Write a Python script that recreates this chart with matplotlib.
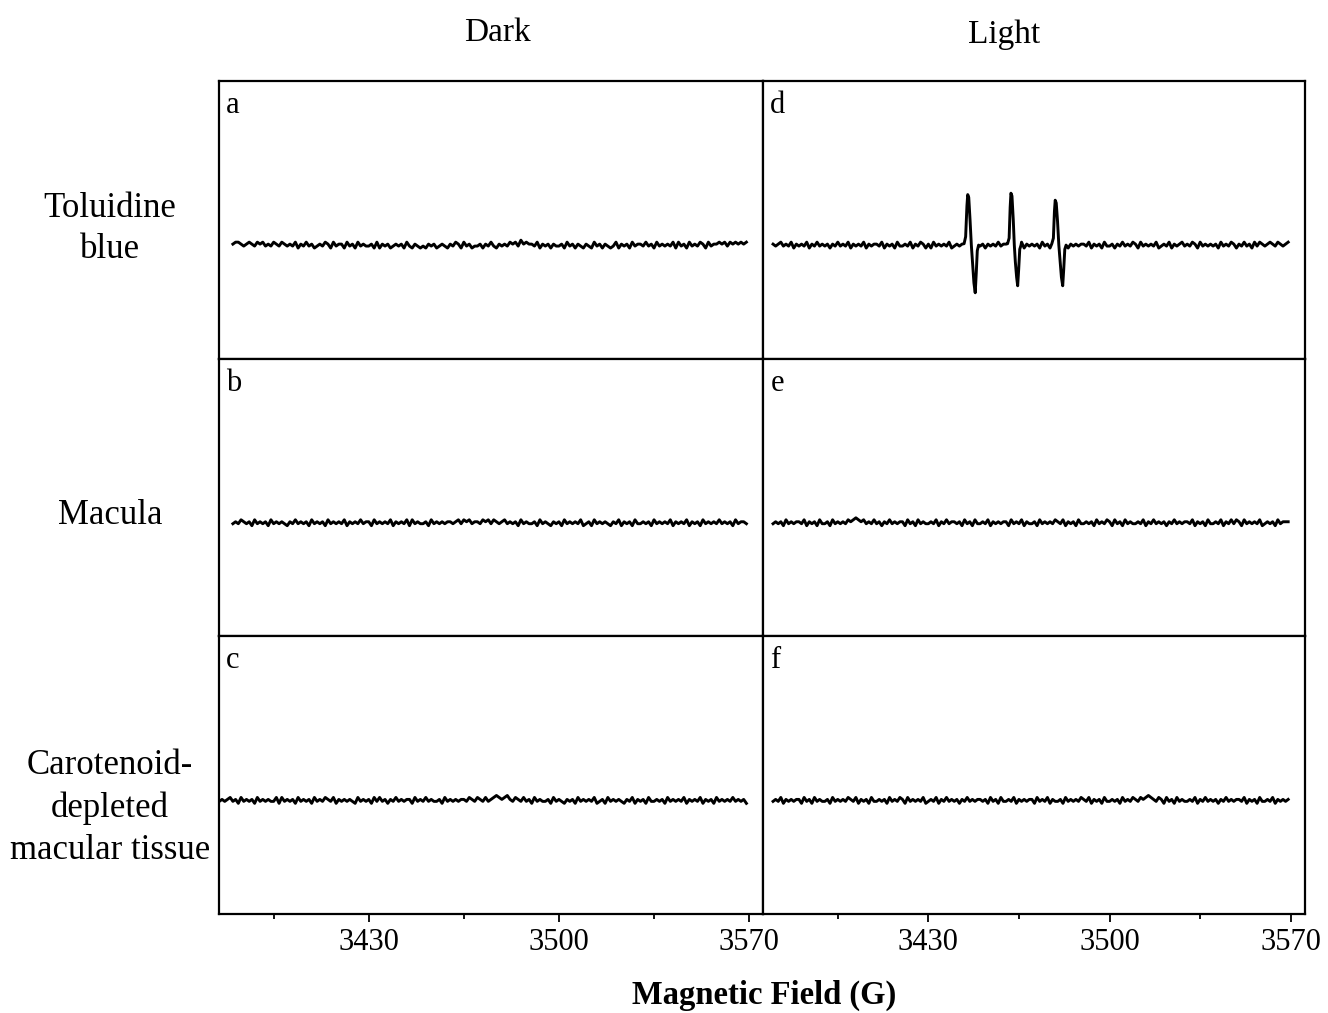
"""EPR spectra: toluidine blue / macula / carotenoid-depleted tissue, dark vs light."""

import numpy as np
import matplotlib.pyplot as plt
from matplotlib.ticker import FixedLocator

plt.rcParams["font.family"] = ["Liberation Serif", "DejaVu Serif"]

COLUMN_TITLES = ["Dark", "Light"]
ROW_LABELS = ["Toluidine\nblue", "Macula", "Carotenoid-\ndepleted\nmacular tissue"]
PANEL_LETTERS = [["a", "d"], ["b", "e"], ["c", "f"]]
MAJOR_TICKS = [3430, 3500, 3570]
MINOR_TICKS = [3395, 3465, 3535]
XLIMS = [(3375, 3575), (3366, 3575.5)]
XLABEL = "Magnetic Field (G)"

# baseline noise, one digit per gauss (signal = (digit - 4.5) * NOISE_UNIT, a.u.)
NOISE_UNIT = 1.4
NOISE = {
    "a": """5665456546 5645465465 4546354645 3454653645 5364536454 4536354534
            5453643543 4354534543 5465364534 4535464354 5465647565 5463545354
            4536453543 5436453543 4635453645 5464536454 5463645364 5465364556
            5646565656""",
    "b": """4546545364 5453645454 3546454536 4545364545 4635454645 5364545463
            5454636454 4536454545 5456465645 5465646545 6454536454 4536454354
            5364545463 4536454543 5463545364 4545364545 4635454635 4536454546
            4545364554""",
    "c": """4545645364 5453645454 4636454536 4545364546 5463545454 3645453646
            4535464545 5364546454 4536454545 5465465464 5676567546 5464536454
            4536454354 5364545463 4536454543 5463545364 4545364545 4635454635
            4536454546 45453""",
    "d": """5456454635 4546354645 4535464546 3545463545 5463545364 4546354653
            5364545463 4545364546 4535454645 5364546354 5453645364 4546354545
            5463545364 4535464546 5364545463 4546354564 5465364545 4536454653
            5464536465 4565465456""",
    "e": """4545364545 5463545364 4536454546 5676564546 4535464545 5364536454
            4546354645 5453645364 4546354545 5364546354 4536454546 5463545364
            4545364546 5364536454 4546354645 4535464545 5463545364 4546354646
            5364545463 4545364555""",
    "f": """4546354545 5364536454 4536454546 5463545364 4545364546 5364545463
            4546354645 4535464545 5453645364 4546354545 5364546354 4536454546
            5463545364 4545364546 5465676546 5364536454 4546354645 4535464545
            5463545364 4546354545""",
}
TRACE_START = {"a": 3380, "b": 3380, "c": 3375, "d": 3370, "e": 3370, "f": 3370}

# nitroxide triplet in panel d (field G, signal a.u.)
PEAK_FIELD = [
    [3443.8, 3444.4, 3444.9, 3445.2, 3445.6, 3446.1, 3446.6, 3447.1, 3447.6, 3448.1, 3448.5, 3448.9, 3449.4],
    [3460.6, 3461.2, 3461.6, 3461.9, 3462.3, 3462.8, 3463.2, 3463.6, 3464.1, 3464.5, 3464.9, 3465.3, 3465.8],
    [3477.7, 3478.3, 3478.7, 3479.0, 3479.4, 3479.9, 3480.4, 3480.9, 3481.4, 3481.9, 3482.3, 3482.7, 3483.2],
]
PEAK_SIGNAL = [
    [1, 6, 28, 36, 34, 18, 0, -14, -27, -34, -20, -4, 0],
    [1, 5, 27, 37, 35, 18, 0, -12, -23, -29, -17, -3, 0],
    [1, 5, 24, 32, 30, 17, 0, -12, -23, -29, -17, -3, 0],
]

YLIM = (-81, 117)


def trace(key):
    digits = np.array([int(ch) for ch in "".join(NOISE[key].split())], dtype=float)
    vals = (digits - 4.5) * NOISE_UNIT
    x = TRACE_START[key] + np.arange(len(vals), dtype=float)
    if key != "d":
        return x, vals
    keep = np.ones(len(x), bool)
    for pf in PEAK_FIELD:
        keep &= ~((x >= min(pf)) & (x <= max(pf)))
    xs = np.concatenate([x[keep]] + [np.array(p) for p in PEAK_FIELD])
    ys = np.concatenate([vals[keep]] + [np.array(p, float) for p in PEAK_SIGNAL])
    order = np.argsort(xs)
    return xs[order], ys[order]


fig = plt.figure(figsize=(13.28, 10.13), dpi=100)
W, H = 1328.0, 1013.0
x_edges = [219.3, 762.7, 1305.0]
y_edges = [81.0, 358.7, 636.3, 914.0]

for r in range(3):
    for c in range(2):
        left = x_edges[c] / W
        width = (x_edges[c + 1] - x_edges[c]) / W
        bottom = 1 - y_edges[r + 1] / H
        height = (y_edges[r + 1] - y_edges[r]) / H
        ax = fig.add_axes([left, bottom, width, height])
        key = PANEL_LETTERS[r][c]
        x, y = trace(key)
        ax.plot(x, y, color="black", lw=2.1, solid_joinstyle="round")
        ax.set_xlim(*XLIMS[c])
        ax.set_ylim(*YLIM)
        ax.set_yticks([])
        for s in ax.spines.values():
            s.set_linewidth(1.6)
        if r == 2:
            ax.xaxis.set_major_locator(FixedLocator(MAJOR_TICKS))
            ax.xaxis.set_minor_locator(FixedLocator(MINOR_TICKS))
            ax.tick_params(axis="x", which="major", length=6, width=1.3,
                           labelsize=22, pad=4)
            ax.tick_params(axis="x", which="minor", length=3.5, width=1.3)
        else:
            ax.set_xticks([])
        ax.text(0.012 if c == 0 else 0.014, 0.885, key, transform=ax.transAxes,
                fontsize=22, ha="left", va="baseline")

fig.text(497 / W, 1 - 33 / H, COLUMN_TITLES[0], fontsize=24, ha="center", va="center")
fig.text(1004 / W, 1 - 35 / H, COLUMN_TITLES[1], fontsize=24, ha="center", va="center")

row_y = [229, 516, 808]
for lab, yy in zip(ROW_LABELS, row_y):
    fig.text(110 / W, 1 - yy / H, lab, fontsize=25, ha="center", va="center",
             linespacing=1.35)

fig.text(764 / W, 1 - 995 / H, XLABEL, fontsize=23.5, fontweight="bold",
         ha="center", va="center")

fig.savefig("out.png", dpi=100)
